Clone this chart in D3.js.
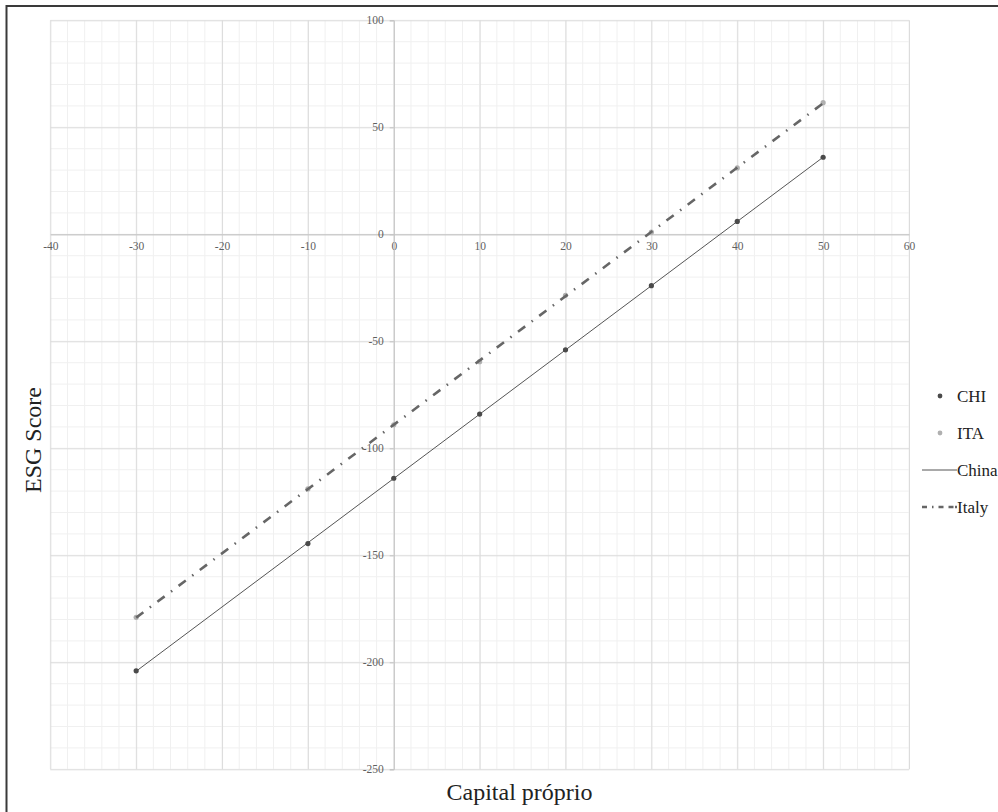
<!DOCTYPE html>
<html>
<head>
<meta charset="utf-8">
<script src="https://cdn.jsdelivr.net/npm/d3@7"></script>
<style>
  body { margin: 0; background: #fff; }
  svg { display: block; font-family: "Liberation Serif", "DejaVu Serif", serif; }
</style>
</head>
<body>
<svg id="chart" width="998" height="812"></svg>
<script>
// capital proprio values (x) and ESG scores per country
const capital = [-30, -10, 0, 10, 20, 30, 40, 50];
const chi_scores = [-204, -144.5, -114, -84, -54, -24, 6, 36];
const ita_scores = [-179, -119, -89, -59.5, -28.5, 1, 31, 61.5];

const x_ticks = [-40, -30, -20, -10, 0, 10, 20, 30, 40, 50, 60];
const y_ticks = [100, 50, 0, -50, -100, -150, -200, -250];

const legend_items = ["CHI", "ITA", "China", "Italy"];

let svg = d3.select("#chart");

let plot = {
  left: 50.3,
  right: 909,
  top: 20.3,
  bottom: 769.3
};

let scale_x = d3.scaleLinear()
  .domain([-40, 60])
  .range([plot.left, plot.right]);
let scale_y = d3.scaleLinear()
  .domain([-250, 100])
  .range([plot.bottom, plot.top]);

// outer frame (cut off on the right and bottom like the screenshot)
svg.append("rect")
  .attr("x", 6.5)
  .attr("y", 6)
  .attr("width", 1100)
  .attr("height", 900)
  .attr("fill", "none")
  .attr("stroke", "#3a3a3a")
  .attr("stroke-width", 2);

let grid = svg.append("g");

// minor grid
grid.selectAll(".minor-x")
  .data(d3.range(-40, 61, 2))
  .join("line")
  .attr("x1", d => scale_x(d))
  .attr("x2", d => scale_x(d))
  .attr("y1", plot.top)
  .attr("y2", plot.bottom)
  .attr("stroke", "#f0f0f0");

grid.selectAll(".minor-y")
  .data(d3.range(-250, 101, 10))
  .join("line")
  .attr("y1", d => scale_y(d))
  .attr("y2", d => scale_y(d))
  .attr("x1", plot.left)
  .attr("x2", plot.right)
  .attr("stroke", "#f0f0f0");

// major grid
let axis_grid_x = d3.axisBottom(scale_x)
  .tickValues(x_ticks)
  .tickSize(-(plot.bottom - plot.top))
  .tickFormat("");
let axis_grid_y = d3.axisLeft(scale_y)
  .tickValues(y_ticks)
  .tickSize(-(plot.right - plot.left))
  .tickFormat("");

svg.append("g")
  .attr("transform", "translate(0," + plot.bottom + ")")
  .call(axis_grid_x)
  .call(g => g.select(".domain").remove())
  .call(g => g.selectAll("line").attr("stroke", "#dcdcdc"));

svg.append("g")
  .attr("transform", "translate(" + plot.left + ",0)")
  .call(axis_grid_y)
  .call(g => g.select(".domain").remove())
  .call(g => g.selectAll("line").attr("stroke", "#dcdcdc"));

// axes crossing at zero
let axis_x = d3.axisBottom(scale_x)
  .tickValues(x_ticks)
  .tickSize(0)
  .tickPadding(8)
  .tickFormat(d => String(d));
let axis_y = d3.axisLeft(scale_y)
  .tickValues(y_ticks)
  .tickSize(4)
  .tickPadding(6)
  .tickFormat(d => String(d));

svg.append("g")
  .attr("transform", "translate(0," + scale_y(0) + ")")
  .call(axis_x)
  .call(g => g.select(".domain").attr("stroke", "#c4c4c4"))
  .call(g => g.selectAll("text")
    .attr("fill", "#5f5f5f")
    .style("font-family", "Liberation Serif")
    .style("font-size", "11.5px"));

svg.append("g")
  .attr("transform", "translate(" + scale_x(0) + ",0)")
  .call(axis_y)
  .call(g => g.select(".domain").attr("stroke", "#c4c4c4"))
  .call(g => g.selectAll("line").attr("stroke", "#c4c4c4"))
  .call(g => g.selectAll("text")
    .attr("fill", "#5f5f5f")
    .style("font-family", "Liberation Serif")
    .style("font-size", "11.5px"));

// linear trendlines
function trend(xs, ys) {
  let mx = d3.mean(xs), my = d3.mean(ys);
  let slope = d3.sum(xs, (v, i) => (v - mx) * (ys[i] - my)) / d3.sum(xs, v => (v - mx) * (v - mx));
  let icept = my - slope * mx;
  let ext = d3.extent(xs);
  return ext.map(v => ({ x: v, y: icept + slope * v }));
}

let trend_line = d3.line()
  .x(d => scale_x(d.x))
  .y(d => scale_y(d.y));

let italy_dash = "9,8,1.5,8";

svg.append("path")
  .datum(trend(capital, chi_scores))
  .attr("d", trend_line)
  .attr("fill", "none")
  .attr("stroke", "#555")
  .attr("stroke-width", 1);

// points
svg.append("g")
  .selectAll("circle")
  .data(capital)
  .join("circle")
  .attr("cx", d => scale_x(d))
  .attr("cy", (d, i) => scale_y(chi_scores[i]))
  .attr("r", 2.6)
  .attr("fill", "#4a4a4a");

svg.append("g")
  .selectAll("circle")
  .data(capital)
  .join("circle")
  .attr("cx", d => scale_x(d))
  .attr("cy", (d, i) => scale_y(ita_scores[i]))
  .attr("r", 2.6)
  .attr("fill", "#b0b0b0");

svg.append("path")
  .datum(trend(capital, ita_scores))
  .attr("d", trend_line)
  .attr("fill", "none")
  .attr("stroke", "#666")
  .attr("stroke-width", 2.6)
  .attr("stroke-dasharray", italy_dash);

// axis titles
svg.append("text")
  .attr("transform", "translate(41,440) rotate(-90)")
  .attr("text-anchor", "middle")
  .attr("fill", "#222")
  .style("font-size", "24px")
  .text("ESG Score");

svg.append("text")
  .attr("x", 519.5)
  .attr("y", 800)
  .attr("text-anchor", "middle")
  .attr("fill", "#222")
  .style("font-size", "24px")
  .text("Capital próprio");

// legend
let legend = svg.append("g");
let legend_y = [396, 433, 470, 507];

legend.append("circle").attr("cx", 940).attr("cy", legend_y[0]).attr("r", 2.4).attr("fill", "#4a4a4a");
legend.append("circle").attr("cx", 940).attr("cy", legend_y[1]).attr("r", 2.4).attr("fill", "#b0b0b0");
legend.append("line")
  .attr("x1", 922).attr("x2", 957)
  .attr("y1", legend_y[2]).attr("y2", legend_y[2])
  .attr("stroke", "#555");
legend.append("line")
  .attr("x1", 922).attr("x2", 957)
  .attr("y1", legend_y[3]).attr("y2", legend_y[3])
  .attr("stroke", "#666")
  .attr("stroke-width", 2.6)
  .attr("stroke-dasharray", "5,5,1.5,5,5");

legend.selectAll("text")
  .data(legend_items)
  .join("text")
  .attr("x", 957)
  .attr("y", (d, i) => legend_y[i] + 5.5)
  .attr("fill", "#222")
  .style("font-size", "17px")
  .text(d => d);
</script>
</body>
</html>
